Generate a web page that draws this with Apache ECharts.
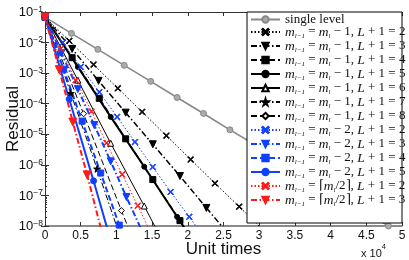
<!DOCTYPE html>
<html><head><meta charset="utf-8">
<script src="https://cdn.jsdelivr.net/npm/echarts@6/dist/echarts.min.js"></script>
<style>html,body{margin:0;padding:0;background:#fff}#c{width:409px;height:260px}</style>
</head><body><div id="c"></div>
<script>
// ---- data (x in units of 10^4) ----
const xTickLabels = ['0','0.5','1','1.5','2','2.5','3','3.5','4','4.5','5'];
const yExponents = [-8,-7,-6,-5,-4,-3,-2,-1];
const seriesNames = [
  'single level',
  'm-1, L+1=2','m-1, L+1=3','m-1, L+1=4','m-1, L+1=5','m-1, L+1=6','m-1, L+1=7','m-1, L+1=8',
  'm-2, L+1=2','m-2, L+1=3','m-2, L+1=4','m-2, L+1=5',
  'ceil, L+1=2','ceil, L+1=3'
];
const xSingle = [0,0.37,0.74,1.11,1.48,1.85,2.22,2.59,2.96,3.33,3.70,4.07,4.44,4.81];
const ySingle = [6.8e-2,2.0e-2,6.0e-3,1.8e-3,5.4e-4,1.6e-4,4.8e-5,1.4e-5,4.3e-6,1.3e-6,3.8e-7,1.1e-7,3.4e-8,1.0e-8];
const xM1L2 = [0,0.34,0.68,1.02,1.36,1.70,2.04,2.38,2.72,3.06];
const yM1L2 = [6.8e-2,1.14e-2,1.9e-3,3.2e-4,5.4e-5,9.0e-6,1.5e-6,2.5e-7,4.3e-8,7.2e-9];
const xM1L3 = [0,0.38,0.75,1.13,1.51,1.89,2.26,2.64];
const yM1L3 = [6.8e-2,6.2e-3,5.6e-4,5.1e-5,4.7e-6,4.3e-7,3.9e-8,3.5e-9];
const xM1L4 = [0,0.38,0.76,1.13,1.51,1.89,2.27];
const yM1L4 = [6.8e-2,3.2e-3,1.5e-4,7.1e-6,3.3e-7,1.5e-8,7.2e-10];
const xM1L5 = [0,0.46,0.92,1.39,1.85,2.31];
const yM1L5 = [6.8e-2,1.6e-3,3.7e-5,8.7e-7,2.0e-8,4.8e-10];
const xM1L6 = [0,0.46,0.92,1.39,1.85];
const yM1L6 = [6.8e-2,5.9e-4,5.1e-6,4.5e-8,3.9e-10];
const xM1L7 = [0,0.36,0.73,1.09];
const yM1L7 = [6.8e-2,2.2e-4,7.4e-7,2.5e-9];
const xM1L8 = [0,0.54,1.07,1.61];
const yM1L8 = [6.8e-2,4.7e-5,3.2e-8,2.2e-11];
const xM2L2 = [0,0.25,0.50,0.76,1.01,1.26,1.51,1.76,2.02,2.27];
const yM2L2 = [6.8e-2,1.0e-2,1.6e-3,2.4e-4,3.7e-5,5.6e-6,8.5e-7,1.3e-7,2.0e-8,3.1e-9];
const xM2L3 = [0,0.23,0.46,0.69,0.92,1.14,1.37];
const yM2L3 = [6.8e-2,4.5e-3,3.0e-4,2.0e-5,1.3e-6,8.9e-8,6.0e-9];
const xM2L4 = [0,0.26,0.52,0.78,1.04];
const yM2L4 = [6.8e-2,1.35e-3,2.7e-5,5.4e-7,1.07e-8];
const xM2L5 = [0,0.34,0.68,1.01];
const yM2L5 = [6.8e-2,1.4e-4,3.0e-7,6.2e-10];
const xHalfL2 = [0,0.22,0.43,0.65,0.86,1.08,1.30,1.51];
const yHalfL2 = [6.8e-2,6.3e-3,5.9e-4,5.6e-5,5.2e-6,4.9e-7,4.6e-8,4.3e-9];
const xHalfL3 = [0,0.20,0.39,0.59,0.78];
const yHalfL3 = [6.8e-2,1.3e-3,2.5e-5,4.7e-7,8.9e-9];

// ---- styles ----
const DOT = [1.5,2], DASHDOT = [6,2.5,1.5,2.5], DASH = [6,3];
const X_SYM = 'path://M0,1L1,0L5,4L9,0L10,1L6,5L10,9L9,10L5,6L1,10L0,9L4,5Z';
const DTRI = 'path://M0,0L10,0L5,9Z';
const STAR = 'path://M50,0L61,35L98,35L68,57L79,91L50,70L21,91L32,57L2,35L39,35Z';
const pairs = (xs, ys) => xs.map((x, i) => [x, ys[i]]);

function mk(name, xs, ys, color, width, type, symbol, size, fill) {
  return {
    name, type: 'line', data: pairs(xs, ys), clip: true,
    symbol, symbolSize: size, showAllSymbol: true,
    lineStyle: {color, width, type},
    itemStyle: {color: fill || color, borderColor: color, borderWidth: 1},
    emphasis: {disabled: true}, animation: false
  };
}
const K = '#000', B = '#1040ff', R = '#ff1a1a', G = '#888';
const series = [
  mk(seriesNames[0], xSingle, ySingle, G, 1.6, 'solid', 'circle', 6, '#aaa'),
  mk(seriesNames[1], xM1L2, yM1L2, K, 1, DOT, X_SYM, 6),
  mk(seriesNames[2], xM1L3, yM1L3, K, 1.5, DASHDOT, DTRI, 7),
  mk(seriesNames[3], xM1L4, yM1L4, K, 1.5, DASH, 'rect', 6),
  mk(seriesNames[4], xM1L5, yM1L5, K, 2, 'solid', 'circle', 5),
  mk(seriesNames[5], xM1L6, yM1L6, K, 1, 'solid', 'triangle', 6, '#fff'),
  mk(seriesNames[6], xM1L7, yM1L7, K, 1, DASHDOT, STAR, 7),
  mk(seriesNames[7], xM1L8, yM1L8, K, 1, DASH, 'diamond', 6, '#fff'),
  mk(seriesNames[8], xM2L2, yM2L2, B, 1, DOT, X_SYM, 6),
  mk(seriesNames[9], xM2L3, yM2L3, B, 2, DASHDOT, DTRI, 7),
  mk(seriesNames[10], xM2L4, yM2L4, B, 2, DASH, 'rect', 6),
  mk(seriesNames[11], xM2L5, yM2L5, B, 2, 'solid', 'circle', 6),
  mk(seriesNames[12], xHalfL2, yHalfL2, R, 1, DOT, X_SYM, 6),
  mk(seriesNames[13], xHalfL3, yHalfL3, R, 2, DASHDOT, DTRI, 8)
];

const sub = s => '{s|' + s + '}';
const lhs = '{i|m}' + sub('l−1') + '{t| = }';
const legendText = {
  'single level': '{t|single level}'
};
seriesNames.slice(1).forEach(n => {
  const L = n.split('=')[1];
  let rhs;
  if (n.startsWith('m-1')) rhs = '{i|m}' + sub('l') + '{t| − 1, }';
  else if (n.startsWith('m-2')) rhs = '{i|m}' + sub('l') + '{t| − 2, }';
  else rhs = '{t|⌈}{i|m}' + sub('l') + '{t|/2⌉, }';
  legendText[n] = lhs + rhs + '{i|L}{t| + 1 = ' + L + '}';
});

const minorVals = [];
yExponents.slice(0, -1).forEach(e => { for (let k = 2; k <= 9; k++) minorVals.push(k * Math.pow(10, e)); });

const axisCol = '#333';
const chart = echarts.init(document.getElementById('c'), null, {renderer: 'canvas'});
chart.setOption({
  animation: false,
  backgroundColor: '#fff',
  grid: {left: 45, right: 7, top: 12, bottom: 34, containLabel: false, outerBoundsMode: 'none'},
  xAxis: [{
    type: 'value', min: 0, max: 5, interval: 0.5, position: 'bottom',
    name: 'Unit times', nameLocation: 'middle', nameGap: 15, nameMoveOverlap: false,
    nameTextStyle: {fontFamily: 'Liberation Sans', fontSize: 17, color: '#111'},
    axisLine: {lineStyle: {color: '#666', width: 1.5}},
    axisTick: {inside: true, length: 4, lineStyle: {color: axisCol}},
    axisLabel: {margin: 4, fontFamily: 'Liberation Sans', fontSize: 12, color: '#111',
      formatter: v => xTickLabels[Math.round(v / 0.5)]},
    splitLine: {show: false}
  }, {
    type: 'value', min: 0, max: 5, interval: 0.5, position: 'top',
    axisLine: {lineStyle: {color: axisCol, width: 1}},
    axisTick: {inside: true, length: 4, lineStyle: {color: axisCol}},
    axisLabel: {show: false}, splitLine: {show: false}
  }],
  yAxis: [{
    type: 'log', logBase: 10, min: 1e-8, max: 1e-1, position: 'left',
    name: 'Residual', nameLocation: 'middle', nameGap: 23, nameRotate: 90, nameMoveOverlap: false,
    nameTextStyle: {fontFamily: 'Liberation Sans', fontSize: 17, color: '#111'},
    axisLine: {lineStyle: {color: axisCol, width: 1}},
    axisTick: {inside: true, length: 4, lineStyle: {color: axisCol}},
    axisLabel: {margin: 2, color: '#111', fontFamily: 'Liberation Sans', fontSize: 12,
      formatter: v => '{b|10}{e|' + String(Math.round(Math.log10(v))).replace('-', '−') + '}',
      rich: {b: {fontFamily: 'Liberation Sans', fontSize: 13, lineHeight: 14, verticalAlign: 'bottom', padding: [6,0,0,0]},
             e: {fontFamily: 'Liberation Sans', fontSize: 8.5, lineHeight: 10, verticalAlign: 'top'}}},
    splitLine: {show: false}
  }, {
    type: 'log', logBase: 10, min: 1e-8, max: 1e-1, position: 'right',
    axisLine: {lineStyle: {color: axisCol, width: 1}},
    axisTick: {inside: true, length: 4, lineStyle: {color: axisCol}},
    axisLabel: {show: false}, splitLine: {show: false}
  }, {
    type: 'log', logBase: 10, min: 1e-8, max: 1e-1, position: 'left', offset: 0,
    axisLine: {show: false},
    axisTick: {inside: true, length: 2, customValues: minorVals, lineStyle: {color: axisCol}},
    axisLabel: {show: false}, splitLine: {show: false}
  }, {
    type: 'log', logBase: 10, min: 1e-8, max: 1e-1, position: 'right', offset: 0,
    axisLine: {show: false},
    axisTick: {inside: true, length: 2, customValues: minorVals, lineStyle: {color: axisCol}},
    axisLabel: {show: false}, splitLine: {show: false}
  }],
  legend: {
    orient: 'vertical', left: 250, top: 13, itemWidth: 29, itemHeight: 8, itemGap: -1,
    padding: 0, data: seriesNames, selectedMode: false, z: 10,
    formatter: n => legendText[n],
    textStyle: {
      color: '#111', padding: [0,0,0,0],
      rich: {
        t: {fontFamily: 'Liberation Serif', fontSize: 13, lineHeight: 14, verticalAlign: 'middle', color: '#111'},
        i: {fontFamily: 'Liberation Serif', fontStyle: 'italic', fontSize: 13.5, lineHeight: 14, verticalAlign: 'middle', color: '#111'},
        s: {fontFamily: 'Liberation Serif', fontStyle: 'italic', fontSize: 7, lineHeight: 7, verticalAlign: 'top', padding: [8,0,0,0], color: '#111'}
      }
    }
  },
  graphic: [
    {type: 'rect', z: 5, shape: {x: 247, y: 12, width: 155, height: 211},
     style: {fill: '#fff', stroke: '#000', lineWidth: 1}},
    {type: 'text', left: 361, top: 243, z: 5,
     style: {text: '{a|x 10}{b|4}', rich: {a: {fontFamily: 'Liberation Sans', fontSize: 11, verticalAlign: 'bottom', padding: [5,0,0,0]}, b: {fontFamily: 'Liberation Sans', fontSize: 7.5, verticalAlign: 'top'}}, fill: '#111'}}
  ],
  series: series.map(s => Object.assign(s, {xAxisIndex: 0, yAxisIndex: 0}))
});
</script></body></html>
